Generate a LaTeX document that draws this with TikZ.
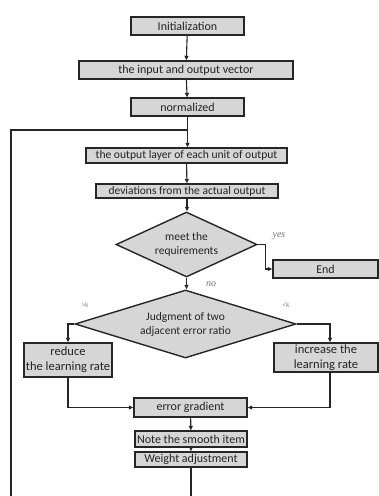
\documentclass[tikz,border=0pt]{standalone}
\usepackage{fontspec}
\setmainfont{Carlito}
\newfontfamily\lblserif{Liberation Serif}
\usetikzlibrary{shapes.geometric,arrows.meta}
\definecolor{boxgray}{RGB}{214,214,214}
\definecolor{txtgray}{RGB}{35,35,35}
\begin{document}
\begin{tikzpicture}[x=1pt,y=-1pt,
  box/.style={draw=black!85, line width=1.4pt, fill=boxgray, inner sep=0pt,
    font=\fontsize{12}{13}\selectfont, text=txtgray, align=center},
  dia/.style={diamond, draw=black!85, line width=1.4pt, fill=boxgray, inner sep=0pt,
    font=\fontsize{11.5}{14}\selectfont, text=txtgray, align=center},
  arr/.style={-{Triangle[length=4.5pt,width=4pt]}, line width=1.1pt, draw=black!85},
  ln/.style={line width=1.1pt, draw=black!85},
  lbl/.style={font=\lblserif\itshape\fontsize{10}{10}\selectfont, text=black!55, inner sep=0pt},
  klbl/.style={font=\fontsize{7.5}{8}\selectfont, text=black!45, inner sep=0pt}]
\useasboundingbox (0,0) rectangle (379,496);
\node[box, minimum width=113pt, minimum height=18pt] (init) at (187.5,26) {Initialization};
\node[box, minimum width=214pt, minimum height=18pt] (vec) at (186,70) {the input and output vector};
\node[box, minimum width=113pt, minimum height=18pt] (norm) at (187.5,107) {normalized};
\node[box, minimum width=201pt, minimum height=15pt, font=\fontsize{11.6}{12}\selectfont] (out) at (186.5,155.5) {the output layer of each unit of output};
\node[box, minimum width=182pt, minimum height=14pt, font=\fontsize{11.5}{12}\selectfont] (dev) at (187,191) {deviations from the actual output};
\node[dia, aspect=2.17, minimum width=141pt, minimum height=65pt] (d1) at (186.5,244.5) {meet the\\requirements};
\node[box, minimum width=105pt, minimum height=18pt] (end) at (325.5,269) {End};
\node[dia, aspect=3.25, minimum width=221pt, minimum height=68pt] (d2) at (185.5,324) {Judgment of two\\adjacent error ratio};
\node[box, minimum width=88pt, minimum height=34pt, font=\fontsize{12.5}{15}\selectfont] (red) at (68,360) {reduce\\the learning rate};
\node[box, minimum width=104pt, minimum height=29pt, font=\fontsize{12.5}{15}\selectfont] (inc) at (326,357.5) {increase the\\learning rate};
\node[box, minimum width=113pt, minimum height=19pt] (eg) at (190.5,407.5) {error gradient};
\node[box, minimum width=112pt, minimum height=16pt] (note) at (191,439) {Note the smooth item};
\node[box, minimum width=112pt, minimum height=15pt] (wt) at (191,459.5) {Weight adjustment};
\coordinate (loopbot) at (11,496);
\coordinate (merge) at (187,130);
\coordinate (wtbot) at (191,496);
\node[lbl] (yes) at (279,236) {yes};
\node[lbl] (no) at (211,284) {no};
\node[klbl] (gk) at (85,305) {>k};
\node[klbl] (lk) at (286,305) {<k};
\draw[arr] (init) -- (vec);
\draw[arr] (vec) -- (norm);
\draw[arr] (norm.south) -- (norm.south |- out.north);
\draw[ln] (loopbot) |- (merge);
\draw[arr] (out) -- (dev);
\draw[arr] (dev.south) -- (dev.south |- d1.north);
\draw[arr] (d1.east) -- ++(8,0) |- (end.west);
\draw[arr] (d1.south) -- (d1.south |- d2.north);
\draw[arr] (d2.west) -| (red.north);
\draw[arr] (d2.east) -| ([xshift=4pt]inc.north);
\draw[arr] (red.south) |- (eg.west);
\draw[arr] ([xshift=4pt]inc.south) |- (eg.east);
\draw[arr] (eg) -- (note);
\draw[arr] (note) -- (wt);
\draw[ln] (wt.south) -- (wtbot);
\end{tikzpicture}
\end{document}
